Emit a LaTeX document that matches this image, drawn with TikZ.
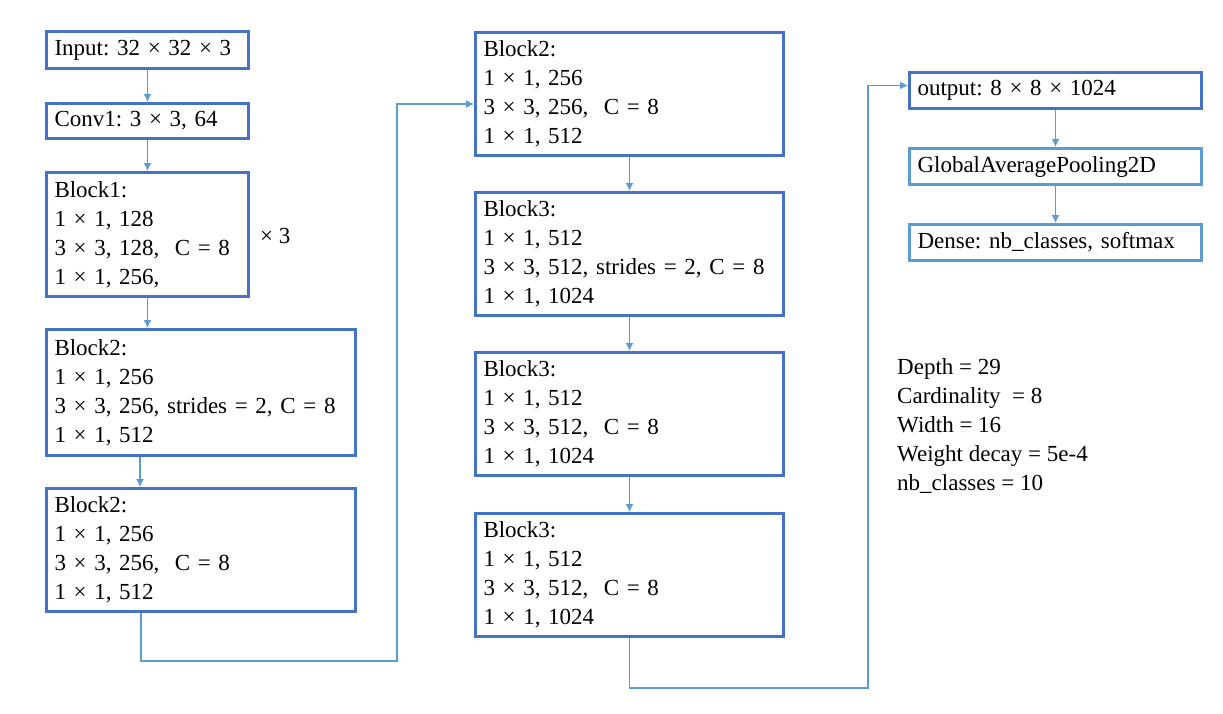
\documentclass[tikz,border=0pt]{standalone}
\usepackage{fontspec}
\setmainfont{Liberation Serif}
\usetikzlibrary{arrows.meta}
\definecolor{boxblue}{HTML}{4472C4}
\definecolor{lineblue}{HTML}{5B9BD5}
\frenchspacing

\begin{document}
\begin{tikzpicture}[x=1pt,y=-1pt,
  layer/.style = {draw=boxblue, line width=3pt, inner xsep=8pt, inner ysep=0pt, align=left, anchor=north west, font=\fontsize{23}{29}\selectfont},
  lightlayer/.style = {layer, draw=lineblue},
  link/.style = {draw=lineblue, line width=1.3pt, -{Latex[length=8pt,width=8pt]}}
  ]
\useasboundingbox (0,0) rectangle (1223,713);
% first column
\node[layer, text width=186pt, minimum height=37pt] (inp) at (45,30) {Input: 32 × 32 × 3};
\node[layer, text width=186pt, minimum height=35pt] (conv) at (45,102) {Conv1: 3 × 3, 64};
\node[layer, text width=186pt, minimum height=124pt] (b1) at (45,171) {Block1:\\1 × 1, 128\\3 × 3, 128,\ \ C = 8\\1 × 1, 256,};
\node[anchor=west, font=\fontsize{23}{29}\selectfont, inner sep=0pt] (rep) at (260,236) {× 3};
\node[layer, text width=293pt, minimum height=126pt] (b2a) at (45,328) {Block2:\\1 × 1, 256\\3 × 3, 256, strides = 2, C = 8\\1 × 1, 512};
\node[layer, text width=293pt, minimum height=123pt] (b2b) at (45,487) {Block2:\\1 × 1, 256\\3 × 3, 256,\ \ C = 8\\1 × 1, 512};
% second column
\node[layer, text width=292pt, minimum height=123pt] (c2) at (474,31) {Block2:\\1 × 1, 256\\3 × 3, 256,\ \ C = 8\\1 × 1, 512};
\node[layer, text width=292pt, minimum height=123pt] (b3a) at (474,191) {Block3:\\1 × 1, 512\\3 × 3, 512, strides = 2, C = 8\\1 × 1, 1024};
\node[layer, text width=292pt, minimum height=123pt] (b3b) at (474,351) {Block3:\\1 × 1, 512\\3 × 3, 512,\ \ C = 8\\1 × 1, 1024};
\node[layer, text width=292pt, minimum height=123pt] (b3c) at (474,512) {Block3:\\1 × 1, 512\\3 × 3, 512,\ \ C = 8\\1 × 1, 1024};
% third column
\node[layer, text width=276pt, minimum height=36pt] (out) at (908,71) {output: 8 × 8 × 1024};
\node[lightlayer, text width=276pt, minimum height=36pt] (gap) at (908,147) {GlobalAveragePooling2D};
\node[lightlayer, text width=276pt, minimum height=36pt] (dense) at (908,223) {Dense: nb\_classes, softmax};
\node[anchor=north west, align=left, inner sep=0pt, font=\fontsize{23}{29}\selectfont] (param) at (897,358)
  {Depth = 29\\Cardinality\ \ = 8\\Width = 16\\Weight decay = 5e-4\\nb\_classes = 10};

\coordinate (low1) at (397,661);
\coordinate (low2) at (868,688);
\draw[link] (inp) -- (conv);
\draw[link] (conv) -- (b1);
\draw[link] (b1) -- (b1.south |- b2a.north);
\draw[link] (b2a.south west) ++(95,0) coordinate (t1) -- (t1 |- b2b.north);
\draw[link] (b2b.south west) ++(96,0) |- (low1) |- ([yshift=-10pt]c2.west);
\draw[link] (c2) -- (b3a);
\draw[link] (b3a) -- (b3b);
\draw[link] (b3b) -- (b3c);
\draw[link] (b3c.south) |- (low2) |- ([yshift=5pt]out.west);
\draw[link] (out) -- (gap);
\draw[link] (gap) -- (dense);

\end{tikzpicture}
\end{document}
